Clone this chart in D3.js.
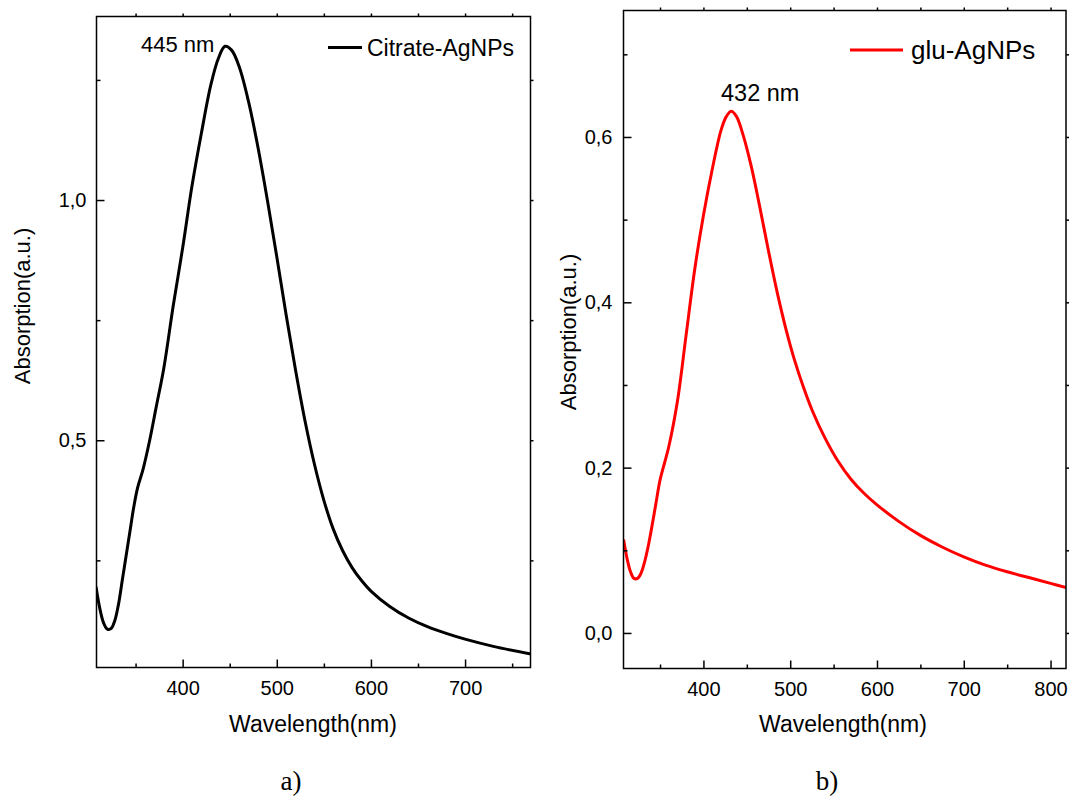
<!DOCTYPE html>
<html><head><meta charset="utf-8">
<script src="https://cdn.jsdelivr.net/npm/d3@7"></script>
<style>
html,body{margin:0;padding:0;background:#fff;}
svg{display:block;font-family:"Liberation Sans",Arial,sans-serif;}
</style></head>
<body>
<svg id="chart" width="1070" height="804"></svg>
<script>
// ---------- Data ----------
const citrateWavelength = [308,312,316,320,324,328,332,336,340,344,348,352,358,365,372,380,390,400,410,420,430,438,445,452,460,470,480,490,500,510,520,530,540,550,560,570,580,590,600,620,640,660,680,700,730,770];
const citrateAbsorption = [0.195,0.15,0.12,0.107,0.108,0.125,0.16,0.21,0.26,0.31,0.36,0.40,0.44,0.50,0.57,0.65,0.78,0.90,1.03,1.14,1.24,1.295,1.32,1.312,1.278,1.205,1.11,1.0,0.882,0.76,0.645,0.54,0.45,0.375,0.315,0.27,0.235,0.208,0.186,0.154,0.13,0.112,0.098,0.086,0.071,0.055];
const gluWavelength = [308,312,316,320,324,328,332,336,340,345,350,355,360,370,380,390,400,410,420,426,432,438,445,455,465,475,485,495,505,515,525,540,555,570,585,600,625,650,675,700,725,750,775,800,818];
const gluAbsorption = [0.113,0.09,0.074,0.066,0.066,0.072,0.085,0.103,0.125,0.155,0.185,0.205,0.225,0.28,0.36,0.44,0.505,0.56,0.607,0.624,0.631,0.625,0.605,0.565,0.515,0.462,0.412,0.368,0.33,0.298,0.27,0.236,0.208,0.186,0.169,0.155,0.135,0.118,0.104,0.092,0.082,0.074,0.067,0.06,0.055];

const xTicksA = [400,500,600,700];
const xMinorA = [350,450,550,650,750];
const yTicksA = [0.5,1.0];
const yMinorA = [0.25,0.75,1.25];
const xTicksB = [400,500,600,700,800];
const xMinorB = [350,450,550,650,750];
const yTicksB = [0.0,0.2,0.4,0.6];
const yMinorB = [0.1,0.3,0.5,0.7];

const panels = [
  {wl: citrateWavelength, ab: citrateAbsorption, color:"#000000",
   xDomain:[308.5,769.5], yDomain:[0.027,1.382],
   left:96.5, right:530.5, top:16.5, bottom:667.5,
   xTicks:xTicksA, xMinor:xMinorA, yTicks:yTicksA, yMinor:yMinorA,
   legend:"Citrate-AgNPs", legendLine:[328,362,47.5], legendText:[367,56], legendSize:23,
   peakLabel:"445 nm", peakPos:[141,51.5], peakSize:22, yPad:10,
   yTitleX:30, yTitleY:306, xTitleX:313, panelLabel:"a)", panelX:291},
  {wl: gluWavelength, ab: gluAbsorption, color:"#ff0000",
   xDomain:[307.9,817.8], yDomain:[-0.043,0.753],
   left:623.5, right:1066, top:10.5, bottom:668.5,
   xTicks:xTicksB, xMinor:xMinorB, yTicks:yTicksB, yMinor:yMinorB,
   legend:"glu-AgNPs", legendLine:[850,903,50], legendText:[911,59], legendSize:26,
   peakLabel:"432 nm", peakPos:[721,101], peakSize:23.5, yPad:11,
   yTitleX:576, yTitleY:332, xTitleX:843, panelLabel:"b)", panelX:827}
];

const fmt = d3.format(".1f");
const comma = v => fmt(v).replace(".", ",");

const svg = d3.select("#chart");

panels.forEach(p => {
  const x = d3.scaleLinear().domain(p.xDomain).range([p.left, p.right]);
  const y = d3.scaleLinear().domain(p.yDomain).range([p.bottom, p.top]);
  const g = svg.append("g");

  const clipId = "clip" + p.panelLabel.replace(")","");
  svg.append("clipPath").attr("id", clipId).append("rect")
    .attr("x", p.left).attr("y", p.top).attr("width", p.right-p.left).attr("height", p.bottom-p.top);

  const pts = p.wl.map((w,i)=>[w,p.ab[i]]);
  g.append("path").datum(pts)
    .attr("clip-path", `url(#${clipId})`)
    .attr("fill","none").attr("stroke",p.color).attr("stroke-width",3)
    .attr("stroke-linejoin","round")
    .attr("d", d3.line().x(d=>x(d[0])).y(d=>y(d[1])).curve(d3.curveCatmullRom.alpha(0.5)));

  g.append("g").attr("transform",`translate(0,${p.bottom})`)
    .call(d3.axisBottom(x).tickValues(p.xTicks).tickSize(-8).tickPadding(13).tickFormat(d3.format("d")));
  g.append("g").attr("transform",`translate(0,${p.bottom})`)
    .call(d3.axisBottom(x).tickValues(p.xMinor).tickSize(-4).tickFormat(""));
  g.append("g").attr("transform",`translate(0,${p.top})`)
    .call(d3.axisTop(x).tickValues(p.xTicks.concat(p.xMinor)).tickSize(3).tickFormat(""));
  g.append("g").attr("transform",`translate(${p.left},0)`)
    .call(d3.axisLeft(y).tickValues(p.yTicks).tickSize(-8).tickPadding(p.yPad).tickFormat(comma));
  g.append("g").attr("transform",`translate(${p.left},0)`)
    .call(d3.axisLeft(y).tickValues(p.yMinor).tickSize(-4).tickFormat(""));
  g.append("g").attr("transform",`translate(${p.right},0)`)
    .call(d3.axisRight(y).tickValues(p.yTicks.concat(p.yMinor)).tickSize(3).tickFormat(""));

  g.selectAll(".domain").remove();
  g.selectAll(".tick line").attr("stroke","#000").attr("stroke-width",1.5);
  g.selectAll(".tick text").attr("font-family","'Liberation Sans',Arial,sans-serif")
    .attr("font-size",20).attr("fill","#000");

  g.append("rect").attr("x",p.left).attr("y",p.top)
    .attr("width",p.right-p.left).attr("height",p.bottom-p.top)
    .attr("fill","none").attr("stroke","#000").attr("stroke-width",1.5);

  g.append("line").attr("x1",p.legendLine[0]).attr("x2",p.legendLine[1])
    .attr("y1",p.legendLine[2]).attr("y2",p.legendLine[2])
    .attr("stroke",p.color).attr("stroke-width",3);
  g.append("text").attr("x",p.legendText[0]).attr("y",p.legendText[1])
    .attr("font-size",p.legendSize).text(p.legend);

  g.append("text").attr("x",p.peakPos[0]).attr("y",p.peakPos[1])
    .attr("font-size",p.peakSize).text(p.peakLabel);

  g.append("text").attr("transform",`translate(${p.yTitleX},${p.yTitleY}) rotate(-90)`)
    .attr("text-anchor","middle").attr("font-size",22).text("Absorption(a.u.)");
  g.append("text").attr("x",p.xTitleX).attr("y",731.5)
    .attr("text-anchor","middle").attr("font-size",23).text("Wavelength(nm)");

  g.append("text").attr("x",p.panelX).attr("y",790)
    .attr("text-anchor","middle").attr("font-family","'Liberation Serif','Times New Roman',serif")
    .attr("font-size",27).text(p.panelLabel);
});
</script>
</body></html>
